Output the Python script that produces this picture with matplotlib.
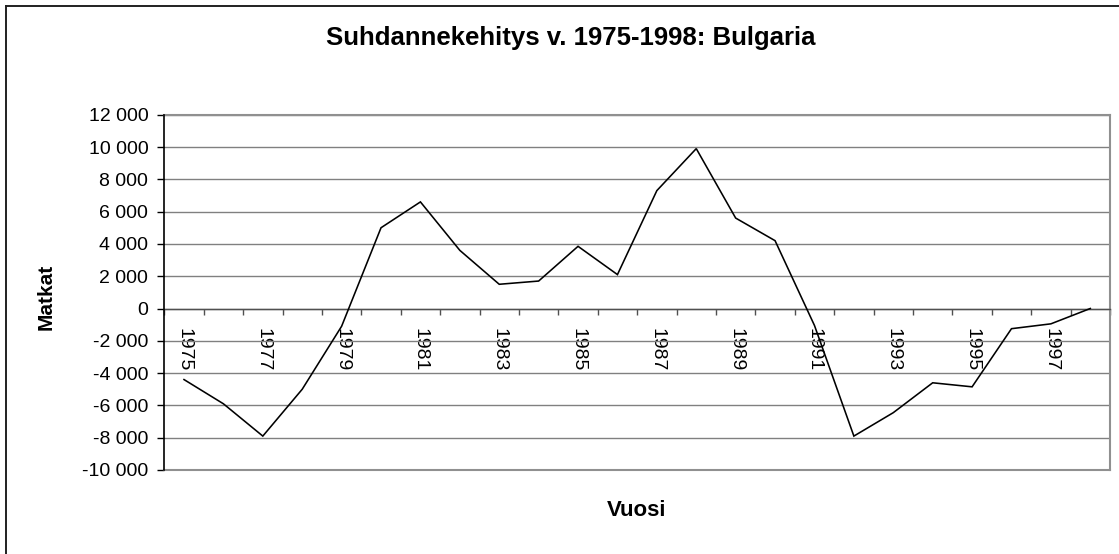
import matplotlib
matplotlib.use("Agg")
import matplotlib.pyplot as plt
from matplotlib.lines import Line2D

plt.rcParams['font.family'] = ['Liberation Sans', 'DejaVu Sans']

# ---- data ----
years = list(range(1975, 1999))
matkat = [-4400, -5900, -7900, -5000, -1100, 5000, 6600, 3600, 1500, 1700,
          3850, 2100, 7300, 9900, 5600, 4200, -1050, -7900, -6450, -4600,
          -4850, -1250, -950, 0]
ytick_values = [12000, 10000, 8000, 6000, 4000, 2000, 0, -2000, -4000,
                -6000, -8000, -10000]
ytick_labels = ["12 000", "10 000", "8 000", "6 000", "4 000", "2 000", "0",
                "-2 000", "-4 000", "-6 000", "-8 000", "-10 000"]
xlabel_years = [str(y) if (y - 1975) % 2 == 0 else "" for y in years]

title = "Suhdannekehitys v. 1975-1998: Bulgaria"
xlabel = "Vuosi"
ylabel = "Matkat"

W, H = 1119, 554
fig = plt.figure(figsize=(W / 100, H / 100), dpi=100)
fig.patch.set_facecolor('white')

# plot area in pixels
L, R, T, B = 164.3, 1110, 114.7, 470
ax = fig.add_axes([L / W, (H - B) / H, (R - L) / W, (B - T) / H])
ax.set_facecolor('white')

pos = list(range(len(years)))
ax.plot(pos, matkat, color='black', lw=1.15, solid_joinstyle='miter', zorder=5)

ax.set_xlim(-0.5, len(years) - 0.5)
ax.set_ylim(ytick_values[-1], ytick_values[0])

# y axis
ax.set_yticks(ytick_values)
ax.set_yticklabels(ytick_labels, fontsize=14)
ax.tick_params(axis='y', direction='out', length=5, width=1, color='black', pad=6.5)
ax.yaxis.grid(True, color='#808080', lw=1)
ax.set_axisbelow(True)
# bottom border of plot area
ax.axhline(ytick_values[-1], color='#909090', lw=1.5, clip_on=False, zorder=1)

# x axis at zero
ax.spines['bottom'].set_position(('data', 0))
ax.spines['bottom'].set_color('#505050')
ax.spines['bottom'].set_linewidth(1)
ax.spines['left'].set_color('black')
ax.spines['left'].set_linewidth(1.2)
ax.spines['left'].set_zorder(3)
ax.spines['top'].set_color('#909090')
ax.spines['top'].set_linewidth(1.5)
ax.spines['right'].set_color('#909090')
ax.spines['right'].set_linewidth(1.5)

bounds = [p - 0.5 for p in pos] + [len(years) - 0.5]
ax.set_xticks(bounds)
ax.set_xticklabels([""] * len(bounds))
ax.tick_params(axis='x', which='major', direction='out', length=4.3, width=1,
               color='#505050')
ax.set_xticks(pos, minor=True)
ax.set_xticklabels(xlabel_years, minor=True, rotation=270, fontsize=14,
                   va='top', ha='center')
ax.tick_params(axis='x', which='minor', length=0, pad=14.0)

# titles / labels
fig.text(571 / W, 1 - 38 / H, title, ha='center', va='center',
         fontsize=18.5, fontweight='bold')
fig.text(45.7 / W, 1 - 296.7 / H, ylabel, ha='center', va='center',
         rotation=90, fontsize=15, fontweight='bold')
fig.text(637 / W, 1 - 510 / H, xlabel, ha='center', va='center',
         fontsize=16, fontweight='bold')

# outer chart frame (left and top edges visible)
fig.add_artist(Line2D([5.5 / W, 5.5 / W], [0, 1 - 5.5 / H], transform=fig.transFigure,
                      color='#202020', lw=1.4))
fig.add_artist(Line2D([5.5 / W, 1], [1 - 5.5 / H, 1 - 5.5 / H], transform=fig.transFigure,
                      color='#202020', lw=1.4))

fig.savefig("out.png", dpi=100, facecolor='white')
